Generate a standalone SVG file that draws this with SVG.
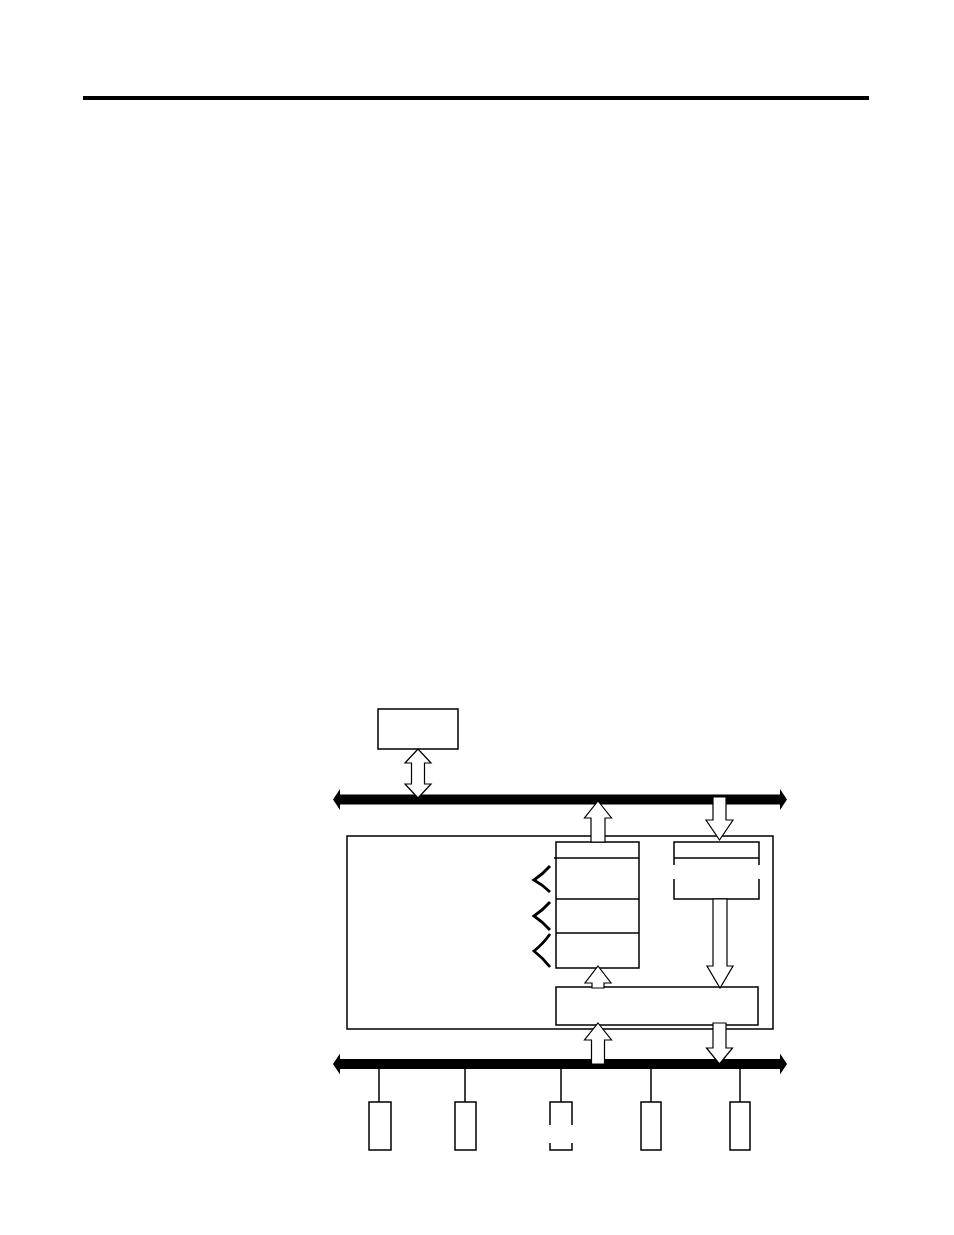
<svg xmlns="http://www.w3.org/2000/svg" width="954" height="1235" viewBox="0 0 954 1235">
<style>
.box{fill:#fff;stroke:#000;stroke-width:1.5}
.ln{fill:none;stroke:#000;stroke-width:1.5}
.arr{fill:#fff;stroke:#000;stroke-width:1.2;stroke-linejoin:miter}
.bus{fill:#000}
.br{fill:none;stroke:#000;stroke-width:2.8;stroke-linejoin:miter}
</style>
<rect width="954" height="1235" fill="#fff"/>
<rect x="83" y="96" width="786" height="4" fill="#000"/>
<g id="buses">
<path class="bus" d="M333,799.5 L340,789 L340,794.5 L780,794.5 L780,789 L787,799.5 L780,810 L780,804.5 L340,804.5 L340,810 Z"/>
<path class="bus" d="M333,1064 L340,1053.5 L340,1059 L780,1059 L780,1053.5 L787,1064 L780,1074.5 L780,1069 L340,1069 L340,1074.5 Z"/>
</g>
<g id="top-box"><rect class="box" x="378" y="709" width="80" height="40"/></g>
<g id="outer-box"><rect class="box" x="347" y="836" width="426" height="193"/></g>
<g id="stack">
<rect class="box" x="556" y="842" width="83" height="126"/>
<line class="ln" x1="554" y1="858" x2="639" y2="858"/>
<line class="ln" x1="556" y1="899" x2="639" y2="899"/>
<line class="ln" x1="556" y1="933" x2="639" y2="933"/>
</g>
<g id="brackets">
<path class="br" d="M550,866 Q543,874 534,880 Q543,885 550,892"/>
<path class="br" d="M550,902 Q543,910 534,916 Q543,922 550,930"/>
<path class="br" d="M550,934 Q543,944 534,951 Q543,958 550,967"/>
</g>
<g id="right-box">
<path class="ln" d="M674,865 L674,842 L759,842 L759,865"/>
<line class="ln" x1="674" y1="858" x2="759" y2="858"/>
<path class="ln" d="M674,879 L674,899 L759,899 L759,879"/>
</g>
<g id="bottom-box"><rect class="box" x="556" y="987" width="202" height="38"/></g>
<g id="devices">
<line class="ln" x1="379" y1="1069" x2="379" y2="1102"/>
<line class="ln" x1="465" y1="1069" x2="465" y2="1102"/>
<line class="ln" x1="561" y1="1069" x2="561" y2="1102"/>
<line class="ln" x1="651" y1="1069" x2="651" y2="1102"/>
<line class="ln" x1="740" y1="1069" x2="740" y2="1102"/>
<rect class="box" x="369" y="1102" width="22" height="48"/>
<rect class="box" x="455" y="1102" width="21" height="48"/>
<path class="ln" d="M550,1125 L550,1102 L572,1102 L572,1125"/>
<path class="ln" d="M550,1143 L550,1150 L572,1150 L572,1143"/>
<rect class="box" x="641" y="1102" width="20" height="48"/>
<rect class="box" x="730" y="1102" width="20" height="48"/>
</g>
<g id="connectors">
<path class="arr" d="M418,749 L431,763 L424.5,763 L424.5,784 L431,784 L418,798 L405,784 L411.5,784 L411.5,763 L405,763 Z"/>
<path class="arr" d="M598,801 L611.5,818 L605,818 L605,842 L591,842 L591,818 L584.5,818 Z"/>
<path class="arr" d="M713,797 L726,797 L726,820 L733,820 L719.5,840 L706,820 L713,820 Z"/>
<path class="arr" d="M713,899 L727,899 L727,966 L733,966 L720,988 L707,966 L713,966 Z"/>
<path class="arr" d="M598,966 L611,983 L604,983 L604,988 L592,988 L592,983 L585,983 Z"/>
<path class="arr" d="M598,1023 L611.5,1040 L604.5,1040 L604.5,1064 L591.5,1064 L591.5,1040 L584.5,1040 Z"/>
<path class="arr" d="M713,1023 L726,1023 L726,1048 L732.5,1048 L719.5,1064 L706.5,1048 L713,1048 Z"/>
</g>
</svg>
